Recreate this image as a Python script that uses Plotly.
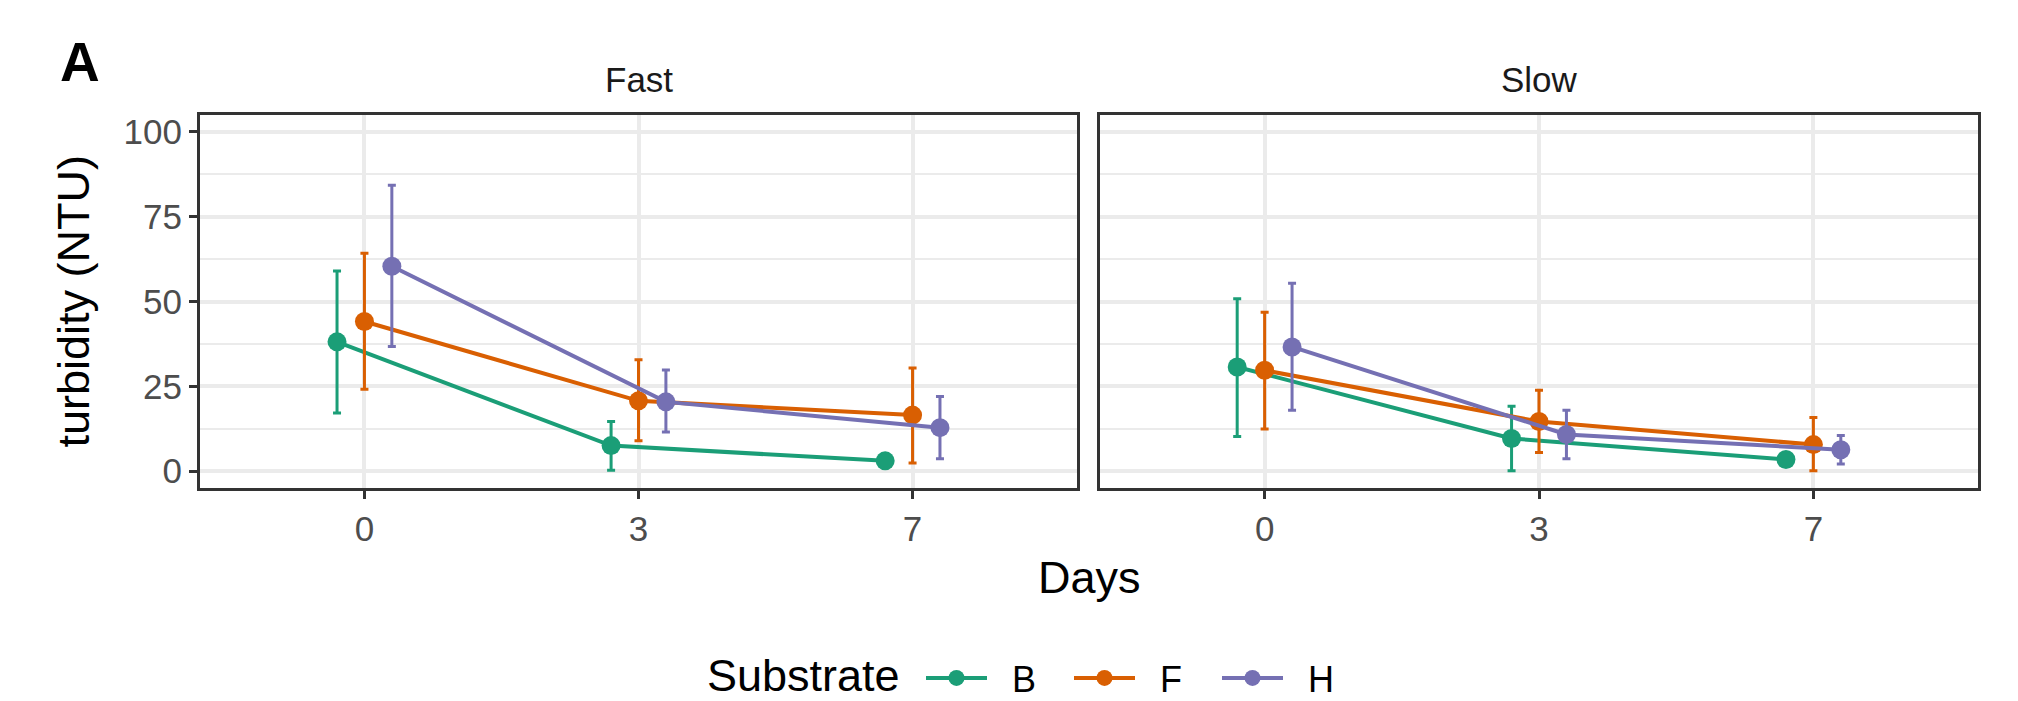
import numpy as np
import plotly.graph_objects as go

# ---------------- data ----------------
days = ["0", "3", "7"]
substrates = ["B", "F", "H"]
panels = ["Fast", "Slow"]

fast_B_mean = [38.1, 7.5, 3.0]
fast_B_hi = [59.0, 14.6, None]
fast_B_lo = [17.1, 0.2, None]
fast_F_mean = [44.1, 20.7, 16.5]
fast_F_hi = [64.2, 32.8, 30.4]
fast_F_lo = [24.1, 8.9, 2.4]
fast_H_mean = [60.4, 20.4, 12.8]
fast_H_hi = [84.3, 29.8, 22.0]
fast_H_lo = [36.7, 11.5, 3.6]

slow_B_mean = [30.7, 9.6, 3.4]
slow_B_hi = [50.8, 19.1, None]
slow_B_lo = [10.2, 0.1, None]
slow_F_mean = [29.7, 14.6, 7.8]
slow_F_hi = [46.8, 23.8, 15.8]
slow_F_lo = [12.4, 5.5, 0.1]
slow_H_mean = [36.6, 10.8, 6.3]
slow_H_hi = [55.4, 17.9, 10.5]
slow_H_lo = [17.9, 3.6, 2.1]

y_ticks = [0, 25, 50, 75, 100]
y_minor = [12.5, 37.5, 62.5, 87.5]

# ---------------- styling ----------------
colors = {"B": "#1B9E77", "F": "#D95F02", "H": "#7570B3"}
dodge = {"B": -0.1, "F": 0.0, "H": 0.1}
FONT = "Liberation Sans, Arial, Helvetica, sans-serif"
W, H = 2018, 701
NB = "\u00a0"

data = {
    "Fast": {
        "B": (fast_B_mean, fast_B_hi, fast_B_lo),
        "F": (fast_F_mean, fast_F_hi, fast_F_lo),
        "H": (fast_H_mean, fast_H_hi, fast_H_lo),
    },
    "Slow": {
        "B": (slow_B_mean, slow_B_hi, slow_B_lo),
        "F": (slow_F_mean, slow_F_hi, slow_F_lo),
        "H": (slow_H_mean, slow_H_hi, slow_H_lo),
    },
}


def arr(v):
    return np.array([np.nan if x is None else x for x in v], dtype=float)


fig = go.Figure()
for pi, panel in enumerate(panels):
    xa = "x" if pi == 0 else "x2"
    ya = "y" if pi == 0 else "y2"
    for s in substrates:
        mean, hi, lo = data[panel][s]
        m = arr(mean)
        up = arr(hi) - m
        dn = m - arr(lo)
        xs = np.arange(len(days)) + dodge[s]
        fig.add_trace(go.Scatter(
            x=xs, y=m, xaxis=xa, yaxis=ya,
            mode="lines+markers", name=NB * 2 + s, legendgroup=s,
            showlegend=(pi == 0),
            line=dict(color=colors[s], width=4),
            marker=dict(color=colors[s], size=19),
            error_y=dict(type="data", symmetric=False, array=up, arrayminus=dn,
                         color=colors[s], thickness=3, width=4),
        ))

x_dom1 = [200 / W, 1077 / W]
x_dom2 = [1100 / W, 1978 / W]
y_dom = [1 - 488 / H, 1 - 115 / H]

common_x = dict(
    range=[-0.6, 2.6], tickvals=[0, 1, 2], ticktext=days,
    showgrid=True, gridcolor="#EBEBEB", gridwidth=3.5,
    zeroline=False, showline=True, mirror=True, linecolor="#333333", linewidth=3,
    ticks="outside", ticklen=8, tickwidth=3, tickcolor="#333333",
    tickfont=dict(family=FONT, size=35, color="#4D4D4D"),
)
common_y = dict(
    range=[-5, 105], tickvals=y_ticks, domain=y_dom,
    showgrid=True, gridcolor="#EBEBEB", gridwidth=3.5,
    minor=dict(tickvals=y_minor, showgrid=True, gridcolor="#EBEBEB", gridwidth=2, ticks=""),
    zeroline=False, showline=True, mirror=True, linecolor="#333333", linewidth=3,
    ticks="outside", ticklen=8, tickwidth=3, tickcolor="#333333",
    tickfont=dict(family=FONT, size=35, color="#4D4D4D"),
)

fig.update_layout(
    width=W, height=H,
    margin=dict(l=0, r=0, t=0, b=0, autoexpand=False),
    paper_bgcolor="white", plot_bgcolor="white",
    font=dict(family=FONT, color="black"),
    xaxis=dict(common_x, domain=x_dom1, anchor="y"),
    xaxis2=dict(common_x, domain=x_dom2, anchor="y2"),
    yaxis=dict(common_y, anchor="x"),
    yaxis2=dict(common_y, anchor="x2", showticklabels=False, ticks=""),
    legend=dict(
        orientation="h", x=921 / W, xanchor="left", y=1 - 678 / H, yanchor="middle",
        font=dict(family=FONT, size=36, color="black"),
        itemwidth=61, entrywidth=72, entrywidthmode="pixels",
        traceorder="normal", bgcolor="rgba(0,0,0,0)",
    ),
    showlegend=True,
)

ann = [
    dict(text="<b>A</b>", x=58 / W, y=1 - 62 / H, xanchor="left", yanchor="middle",
         font=dict(size=55, color="black", family=FONT)),
    dict(text="Fast", x=sum(x_dom1) / 2, y=1 - 80 / H, xanchor="center", yanchor="middle",
         font=dict(size=35, color="#1A1A1A", family=FONT)),
    dict(text="Slow", x=sum(x_dom2) / 2, y=1 - 80 / H, xanchor="center", yanchor="middle",
         font=dict(size=35, color="#1A1A1A", family=FONT)),
    dict(text="Days", x=(x_dom1[0] + x_dom2[1]) / 2, y=1 - 577 / H, xanchor="center", yanchor="middle",
         font=dict(size=45, color="black", family=FONT)),
    dict(text="turbidity (NTU)", x=73 / W, y=sum(y_dom) / 2, xanchor="center", yanchor="middle",
         textangle=-90, font=dict(size=45, color="black", family=FONT)),
    dict(text="Substrate", x=803 / W, y=1 - 675 / H, xanchor="center", yanchor="middle",
         font=dict(size=45, color="black", family=FONT)),
]
for a in ann:
    a.update(xref="paper", yref="paper", showarrow=False)
fig.update_layout(annotations=ann)

fig.write_html(
    "out.html",
    config={"displayModeBar": False},
    post_script="document.body.style.margin='0';document.body.style.overflow='hidden';",
)
